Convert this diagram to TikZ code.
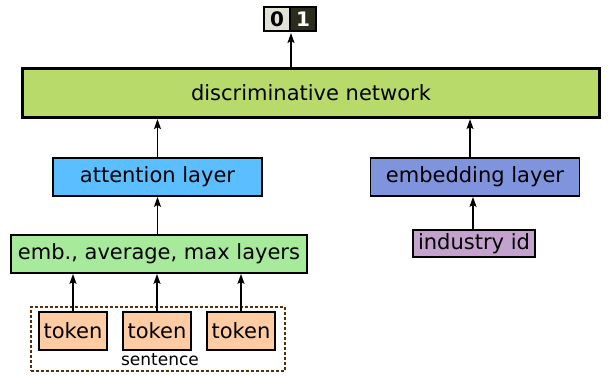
\documentclass[tikz,border=0pt]{standalone}
\usepackage{fontspec}
\setmainfont{DejaVu Sans}
\usetikzlibrary{arrows.meta}
\begin{document}
\begin{tikzpicture}[x=1pt,y=-1pt,
  box/.style={draw=black,line width=1.8pt,inner sep=0pt,font=\fontsize{21}{24}\selectfont},
  arr/.style={-{Stealth[length=10pt,width=7pt,inset=2pt]},line width=1.4pt},
]
\useasboundingbox (0,0) rectangle (608,375);
\definecolor{discg}{HTML}{B8DA6B}
\definecolor{attb}{HTML}{5BBFFF}
\definecolor{embb}{HTML}{8094DE}
\definecolor{emag}{HTML}{A8EA9C}
\definecolor{indp}{HTML}{C3A3CE}
\definecolor{tokc}{HTML}{FFCBA2}
\definecolor{zerog}{HTML}{E2E2D4}
\definecolor{oned}{HTML}{2C2C1C}
\definecolor{sentb}{HTML}{5A2C08}

\node[box,line width=3.2pt,fill=discg,minimum width=577,minimum height=49] (disc) at (311,93) {discriminative network};
\node[box,fill=attb,minimum width=209,minimum height=38] (att) at (157.5,177) {attention layer};
\node[box,fill=embb,minimum width=209,minimum height=38] (emb) at (475,177) {embedding layer};
\node[box,fill=emag,minimum width=296,minimum height=38] (eam) at (159,254) {emb., average, max layers};
\node[box,fill=indp,minimum width=122,minimum height=27] (ind) at (474,243.5) {industry id};
\node[box,fill=tokc,minimum width=68,minimum height=38] (t1) at (73,331) {token};
\node[box,fill=tokc,minimum width=68,minimum height=38] (t2) at (157,331) {token};
\node[box,fill=tokc,minimum width=68,minimum height=38] (t3) at (241,331) {token};
\node[draw=sentb,dash pattern=on 3pt off 2pt,line width=1.5pt,minimum width=254,minimum height=64,inner sep=0pt] (sent) at (158,339) {};
\node[font=\fontsize{17}{19}\selectfont,inner sep=0pt] (slab) at (160,360) {sentence};
\node[draw=black,line width=1.4pt,fill=zerog,minimum width=26,minimum height=24,inner sep=0pt,font=\bfseries\fontsize{20}{22}\selectfont] (zero) at (277,19) {0};
\node[draw=black,line width=1.4pt,fill=oned,text=white,minimum width=26,minimum height=24,inner sep=0pt,font=\bfseries\fontsize{20}{22}\selectfont] (one) at (303,19) {1};
\coordinate (outtop) at (291,33);

\draw[arr] (disc.north -| outtop) -- (outtop);
\draw[arr] (att.north) -- (att.north |- disc.south);
\draw[arr] (emb.north -| 470,0) -- (disc.south -| 470,0);
\draw[arr] (eam.north -| att.south) -- (att.south);
\draw[arr] (ind.north -| 473,0) -- (emb.south -| 473,0);
\draw[arr] (t1.north) -- (t1.north |- eam.south);
\draw[arr] (t2.north) -- (t2.north |- eam.south);
\draw[arr] (t3.north) -- (t3.north |- eam.south);
\end{tikzpicture}
\end{document}
